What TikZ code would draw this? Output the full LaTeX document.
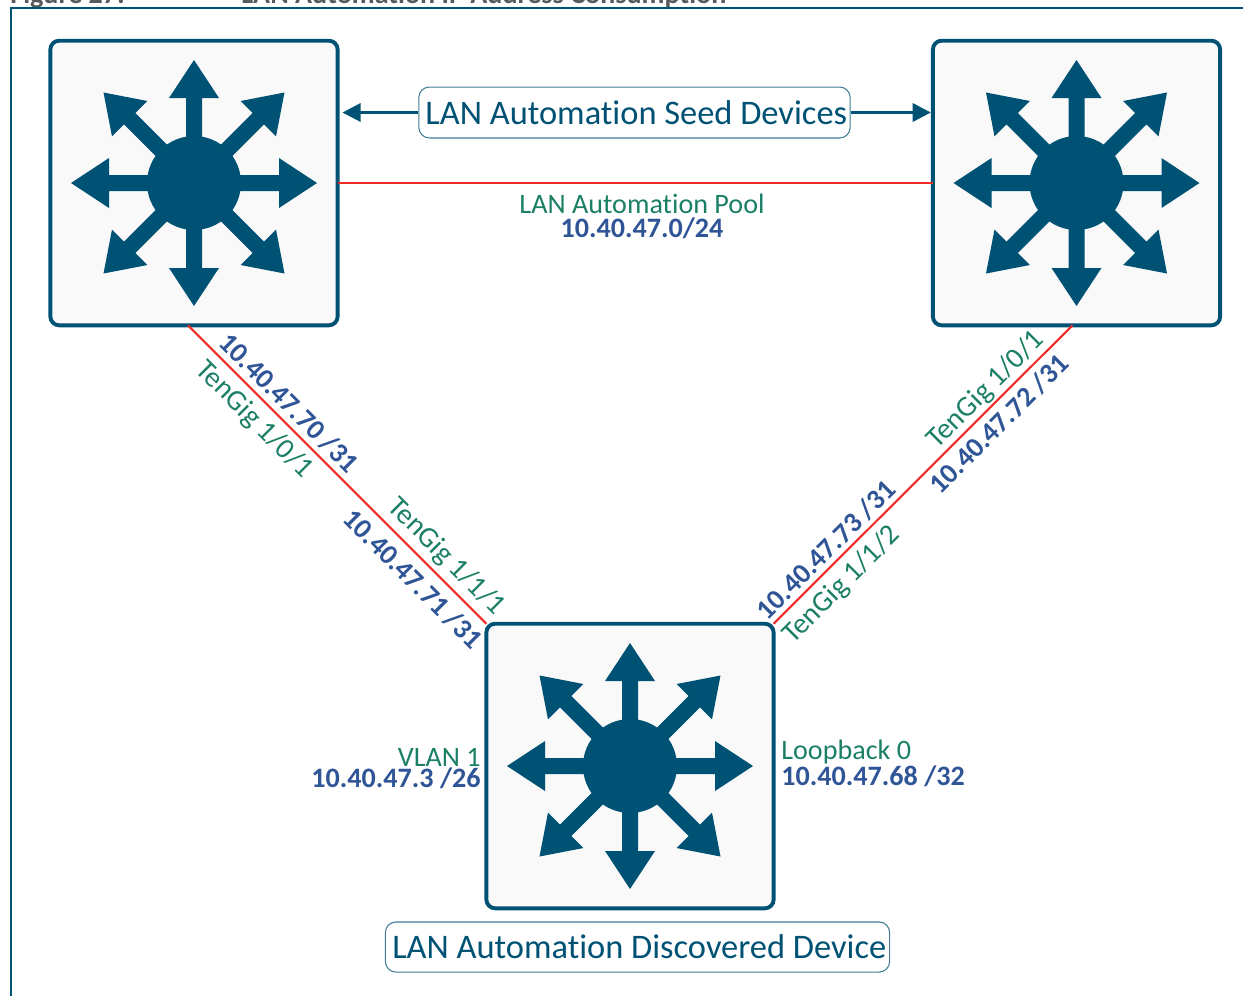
\documentclass[tikz,border=0pt]{standalone}
\usepackage{fontspec}
\setmainfont{Carlito}[RawFeature={-liga}]
\usetikzlibrary{arrows.meta,positioning}
\definecolor{swblue}{HTML}{005275}
\definecolor{ifgreen}{HTML}{1B7F66}
\definecolor{ipblue}{HTML}{2F5597}
\definecolor{linkred}{HTML}{EE2B24}
\definecolor{boxfill}{HTML}{F9F9FA}
\definecolor{headgray}{HTML}{58595B}
\newcommand{\tagtext}[1]{\hspace*{2pt}\raisebox{-1.2pt}{#1}}
\tikzset{
  switchbox/.style={draw=swblue,fill=boxfill,line width=2.2pt,rounded corners=5pt,minimum width=163.5pt,minimum height=162pt,inner sep=0pt,outer sep=0pt},
  tagbox/.style={draw=swblue!75,fill=white,line width=0.6pt,rounded corners=6pt,inner sep=0pt,text=swblue,font=\fontsize{19.6}{21}\selectfont},
  iflabel/.style={text=ifgreen,inner sep=0pt,font=\fontsize{16}{17}\selectfont},
  ifslant/.style={text=ifgreen,inner sep=0pt,font=\fontsize{16.5}{17}\selectfont},
  iplabel/.style={text=ipblue,inner sep=0pt,font=\fontsize{16}{17}\selectfont\bfseries},
  link/.style={linkred,line width=1.2pt},
  tagarrow/.style={swblue,line width=1.2pt,-{Triangle[length=10.3pt,width=10.5pt]}},
  pics/switchicon/.style={code={
    \fill[swblue] (0,0) circle (47);
    \foreach \a in {0,90,180,270}
      \fill[swblue,rotate=\a] (0,-8) -- (85,-8) -- (85,-25) -- (123,0) -- (85,25) -- (85,8) -- (0,8) -- cycle;
    \foreach \a in {45,135,225,315}
      \fill[swblue,rotate=\a] (0,-8) -- (91,-8) -- (91,-25) -- (128,0) -- (91,25) -- (91,8) -- (0,8) -- cycle;
  }}
}
\begin{document}
\begin{tikzpicture}[x=0.02cm,y=-0.02cm]
\useasboundingbox (0,0) rectangle (1243,995);

% frame and clipped heading
\begin{scope}
\clip (0,0) rectangle (1243,995);
\node[anchor=base west,inner sep=0pt,text=headgray,font=\fontsize{16}{17}\selectfont\bfseries] (headnum) at (10,3) {Figure 27:};
\node[anchor=base west,inner sep=0pt,text=headgray,font=\fontsize{16}{17}\selectfont\bfseries] (headtitle) at (241,3) {LAN Automation IP Address Consumption};
\draw[swblue,line width=1.2pt] (11,1000) -- (11,8) -- (1250,8);
\end{scope}

% switches
\node[switchbox] (seedl) at (194,183) {};
\node[switchbox] (seedr) at (1076.5,183) {};
\node[switchbox] (disc) at (630,766) {};
\pic at (seedl) {switchicon};
\pic at (seedr) {switchicon};
\pic at (disc) {switchicon};

% links
\draw[link] (seedl.east) -- (seedr.west);
\draw[link] ([xshift=-3.4pt]seedl.south) -- (disc.north west);
\draw[link] ([xshift=-2.3pt]seedr.south) -- (disc.north east);

% tags
\node[tagbox,minimum width=245.5pt,minimum height=29pt] (seedtag) at (634.5,112.5) {\tagtext{LAN Automation Seed Devices}};
\node[tagbox,minimum width=287pt,minimum height=28.5pt] (disctag) at (637.5,947) {\tagtext{LAN Automation Discovered Device}};
\draw[tagarrow,shorten >=2.8pt] (seedtag.west) -- (seedtag.west -| seedl.east);
\draw[tagarrow,shorten >=1.2pt] (seedtag.east) -- (seedtag.east -| seedr.west);

% pool
\node[iflabel] (poolname) at (642,204) {LAN Automation Pool};
\node[iplabel] (poolip) at (642,228) {10.40.47.0/24};

% left link
\node[iplabel,rotate=-45] (ipa) at (289,403) {10.40.47.70 /31};
\node[ifslant,rotate=-45] (ifa) at (254,420) {TenGig 1/0/1};
\node[iplabel,rotate=-45] (ipb) at (413,579) {10.40.47.71 /31};
\node[ifslant,rotate=-45] (ifb) at (446,557) {TenGig 1/1/1};

% right link
\node[iplabel,rotate=45] (ipc) at (999,424) {10.40.47.72 /31};
\node[ifslant,rotate=45] (ifc) at (986,390) {TenGig 1/0/1};
\node[iplabel,rotate=45] (ipd) at (826,550) {10.40.47.73 /31};
\node[ifslant,rotate=45] (ifd) at (842,585) {TenGig 1/1/2};

% discovered device
\node[iflabel,anchor=east] (vlan) at (481,757) {VLAN 1};
\node[iplabel,anchor=east] (vlanip) at (481,778) {10.40.47.3 /26};
\node[iflabel,anchor=west] (loop) at (781,752) {Loopback 0};
\node[iplabel,anchor=west] (loopip) at (781,776) {10.40.47.68 /32};

\end{tikzpicture}
\end{document}
